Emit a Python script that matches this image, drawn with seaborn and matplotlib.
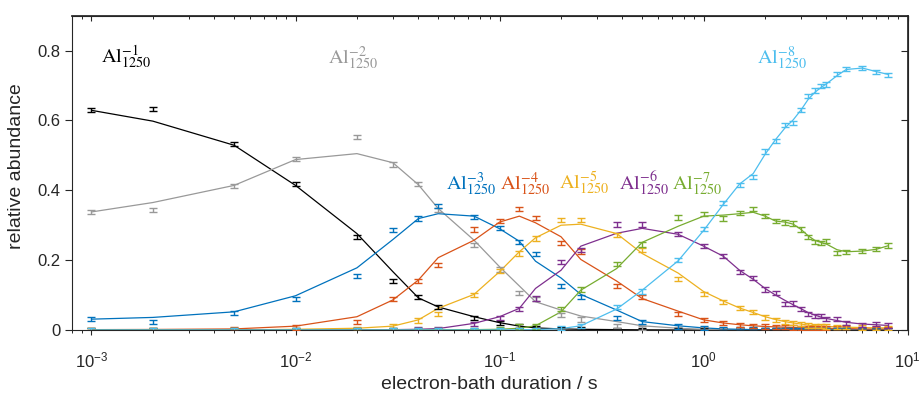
import numpy as np
import pandas as pd
import matplotlib
matplotlib.use("Agg")
import matplotlib.pyplot as plt
import matplotlib.ticker as mticker
import seaborn as sns

# ---------------- data ----------------
t = [0.001, 0.002, 0.005, 0.01, 0.02, 0.03, 0.04, 0.05, 0.075, 0.1, 0.125, 0.15,
     0.2, 0.25, 0.375, 0.5, 0.75, 1.0, 1.25, 1.5, 1.75, 2.0, 2.25, 2.5, 2.75, 3.0,
     3.25, 3.5, 3.75, 4.0, 4.5, 5.0, 6.0, 7.0, 8.0]

ions = ["Al1", "Al2", "Al3", "Al4", "Al5", "Al6", "Al7", "Al8"]
labels = [r"$\mathrm{Al}^{-1}_{1250}$", r"$\mathrm{Al}^{-2}_{1250}$",
          r"$\mathrm{Al}^{-3}_{1250}$", r"$\mathrm{Al}^{-4}_{1250}$",
          r"$\mathrm{Al}^{-5}_{1250}$", r"$\mathrm{Al}^{-6}_{1250}$",
          r"$\mathrm{Al}^{-7}_{1250}$", r"$\mathrm{Al}^{-8}_{1250}$"]
colors = ["#000000", "#999999", "#0072BD", "#D95319", "#EDB120", "#7E2F8E", "#77AC30", "#4DBEEE"]

# measured abundances
al1 = [0.629, 0.633, 0.533, 0.417, 0.267, 0.140, 0.095, 0.066, 0.035, 0.021, 0.011, 0.006,
       0.003, 0.002, 0.001, 0.001, 0.0, 0.0, 0.0, 0.0, 0.0, 0.0, 0.0, 0.0, 0.0, 0.0,
       0.0, 0.0, 0.0, 0.0, 0.0, 0.0, 0.0, 0.0, 0.0]
al2 = [0.338, 0.343, 0.412, 0.490, 0.552, 0.474, 0.417, 0.343, 0.243, 0.173, 0.107, 0.088,
       0.043, 0.030, 0.012, 0.006, 0.003, 0.002, 0.001, 0.001, 0.0, 0.0, 0.0, 0.0, 0.0, 0.0,
       0.0, 0.0, 0.0, 0.0, 0.0, 0.0, 0.0, 0.0, 0.0]
al3 = [0.031, 0.024, 0.049, 0.088, 0.155, 0.287, 0.319, 0.355, 0.324, 0.291, 0.252, 0.217,
       0.126, 0.095, 0.035, 0.022, 0.010, 0.005, 0.003, 0.002, 0.002, 0.001, 0.001, 0.001, 0.0, 0.0,
       0.0, 0.0, 0.0, 0.0, 0.0, 0.0, 0.0, 0.0, 0.0]
al4 = [0.001, 0.001, 0.002, 0.007, 0.022, 0.088, 0.141, 0.186, 0.288, 0.312, 0.347, 0.321,
       0.248, 0.225, 0.127, 0.094, 0.045, 0.029, 0.019, 0.014, 0.012, 0.010, 0.009, 0.008, 0.007, 0.006,
       0.006, 0.005, 0.005, 0.005, 0.004, 0.004, 0.003, 0.003, 0.003]
al5 = [0.0, 0.0, 0.0, 0.001, 0.003, 0.011, 0.027, 0.045, 0.100, 0.169, 0.219, 0.262,
       0.316, 0.316, 0.271, 0.229, 0.146, 0.104, 0.081, 0.062, 0.051, 0.036, 0.029, 0.022, 0.019, 0.016,
       0.013, 0.012, 0.011, 0.010, 0.009, 0.008, 0.007, 0.006, 0.006]
al6 = [0.0, 0.0, 0.0, 0.0, 0.0, 0.001, 0.002, 0.003, 0.016, 0.035, 0.060, 0.090,
       0.195, 0.230, 0.302, 0.302, 0.276, 0.240, 0.211, 0.167, 0.148, 0.116, 0.105, 0.074, 0.076, 0.060,
       0.046, 0.040, 0.040, 0.031, 0.032, 0.021, 0.014, 0.016, 0.013]
al7 = [0.0, 0.0, 0.0, 0.0, 0.0, 0.0, 0.0, 0.0, 0.001, 0.002, 0.010, 0.010,
       0.060, 0.116, 0.190, 0.245, 0.322, 0.331, 0.319, 0.335, 0.346, 0.327, 0.312, 0.308, 0.305, 0.288,
       0.267, 0.252, 0.248, 0.255, 0.221, 0.224, 0.226, 0.232, 0.242]
al8 = [0.0, 0.0, 0.0, 0.0, 0.0, 0.0, 0.0, 0.0, 0.0, 0.0, 0.001, 0.001,
       0.006, 0.011, 0.066, 0.110, 0.200, 0.289, 0.364, 0.416, 0.438, 0.511, 0.542, 0.586, 0.592, 0.629,
       0.669, 0.686, 0.699, 0.703, 0.732, 0.748, 0.750, 0.739, 0.731]

# model (fit) curves
fit1 = [0.629, 0.598, 0.529, 0.414, 0.276, 0.167, 0.092, 0.066, 0.038, 0.021, 0.011, 0.006,
        0.003, 0.002, 0.001, 0.0005, 0.0, 0.0, 0.0, 0.0, 0.0, 0.0, 0.0, 0.0, 0.0, 0.0,
        0.0, 0.0, 0.0, 0.0, 0.0, 0.0, 0.0, 0.0, 0.0]
fit2 = [0.338, 0.365, 0.414, 0.488, 0.505, 0.479, 0.416, 0.348, 0.257, 0.181, 0.126, 0.081,
        0.057, 0.040, 0.024, 0.012, 0.005, 0.002, 0.001, 0.0005, 0.0, 0.0, 0.0, 0.0, 0.0, 0.0,
        0.0, 0.0, 0.0, 0.0, 0.0, 0.0, 0.0, 0.0, 0.0]
fit3 = [0.031, 0.036, 0.052, 0.098, 0.178, 0.259, 0.319, 0.333, 0.326, 0.290, 0.254, 0.197,
        0.149, 0.102, 0.057, 0.024, 0.012, 0.006, 0.003, 0.002, 0.001, 0.001, 0.0, 0.0, 0.0, 0.0,
        0.0, 0.0, 0.0, 0.0, 0.0, 0.0, 0.0, 0.0, 0.0]
fit4 = [0.001, 0.0015, 0.003, 0.011, 0.038, 0.086, 0.143, 0.207, 0.257, 0.309, 0.326, 0.307,
        0.267, 0.202, 0.140, 0.090, 0.054, 0.029, 0.020, 0.015, 0.012, 0.010, 0.009, 0.008, 0.007, 0.006,
        0.006, 0.005, 0.005, 0.005, 0.004, 0.004, 0.003, 0.003, 0.003]
fit5 = [0.0, 0.0, 0.0, 0.002, 0.005, 0.011, 0.029, 0.062, 0.102, 0.167, 0.224, 0.264,
        0.300, 0.303, 0.276, 0.219, 0.163, 0.110, 0.083, 0.063, 0.050, 0.038, 0.030, 0.024, 0.020, 0.017,
        0.014, 0.012, 0.011, 0.010, 0.009, 0.008, 0.007, 0.006, 0.006]
fit6 = [0.0, 0.0, 0.0, 0.0, 0.0005, 0.001, 0.002, 0.004, 0.019, 0.038, 0.062, 0.119,
        0.171, 0.240, 0.277, 0.291, 0.274, 0.240, 0.211, 0.171, 0.145, 0.119, 0.100, 0.085, 0.072, 0.061,
        0.050, 0.043, 0.037, 0.033, 0.027, 0.022, 0.017, 0.015, 0.013]
fit7 = [0.0, 0.0, 0.0, 0.0, 0.0, 0.0, 0.0, 0.0005, 0.001, 0.002, 0.005, 0.012,
        0.052, 0.114, 0.176, 0.251, 0.297, 0.326, 0.329, 0.333, 0.337, 0.326, 0.312, 0.309, 0.303, 0.288,
        0.270, 0.257, 0.251, 0.246, 0.230, 0.224, 0.226, 0.231, 0.241]
fit8 = [0.0, 0.0, 0.0, 0.0, 0.0, 0.0, 0.0, 0.0, 0.0, 0.0, 0.0005, 0.001,
        0.004, 0.012, 0.060, 0.114, 0.198, 0.285, 0.360, 0.418, 0.448, 0.503, 0.545, 0.578, 0.602, 0.630,
        0.660, 0.680, 0.694, 0.705, 0.728, 0.746, 0.750, 0.740, 0.732]

err = 0.006  # error bar half-height

data_series = [al1, al2, al3, al4, al5, al6, al7, al8]
fit_series = [fit1, fit2, fit3, fit4, fit5, fit6, fit7, fit8]

# label anchor positions (data coords)
label_x = [0.00111, 0.01436, 0.0547, 0.1008, 0.196, 0.386, 0.698, 1.82]
label_y = [0.763, 0.763, 0.403, 0.403, 0.403, 0.403, 0.403, 0.762]

xticks = [1e-3, 1e-2, 1e-1, 1e0, 1e1]
yticks = [0, 0.2, 0.4, 0.6, 0.8]
ytick_labels = ["0", "0.2", "0.4", "0.6", "0.8"]

# ---------------- style ----------------
sns.set_theme(style="white")
plt.rcParams["font.family"] = ["Liberation Sans", "DejaVu Sans"]
plt.rcParams["axes.edgecolor"] = "#262626"
plt.rcParams["xtick.color"] = "#262626"
plt.rcParams["ytick.color"] = "#262626"

fig = plt.figure(figsize=(9.19, 3.97), dpi=100)
ax = fig.add_axes([0.0780, 0.1688, 0.9097, 0.7917])

df = pd.DataFrame({
    "t": np.tile(t, len(ions)),
    "fit": np.concatenate(fit_series),
    "ion": np.repeat(ions, len(t)),
})
sns.lineplot(data=df, x="t", y="fit", hue="ion", palette=colors, hue_order=ions,
             legend=False, linewidth=0.9, estimator=None, ax=ax)

for vals, c in zip(data_series, colors):
    ax.errorbar(t, vals, yerr=err, fmt="none", ecolor=c, elinewidth=1.0,
                capsize=2.6, capthick=1.0, zorder=3)

for lab, x, y, c in zip(labels, label_x, label_y, colors):
    ax.text(x, y, lab, color=c, fontsize=14.5, ha="left", va="baseline",
            math_fontfamily="stix")

ax.set_xscale("log")
ax.set_xlim(8e-4, 10)
ax.set_ylim(0, 0.9)
ax.set_xticks(xticks)
ax.set_yticks(yticks)
ax.set_yticklabels(ytick_labels)
ax.xaxis.set_minor_locator(mticker.LogLocator(base=10, subs=np.arange(2, 10), numticks=20))
ax.xaxis.set_minor_formatter(mticker.NullFormatter())

for s in ax.spines.values():
    s.set_linewidth(0.8)
    s.set_color("#262626")

ax.tick_params(axis="x", which="major", direction="out", length=3.5, width=0.8,
               labelsize=12, pad=11, bottom=True, top=False)
ax.tick_params(axis="x", which="minor", direction="out", length=2.2, width=0.7,
               bottom=True, top=False)
ax.tick_params(axis="y", which="major", direction="out", length=5, width=0.8,
               labelsize=12, pad=3, left=True, right=False)

secx = ax.secondary_xaxis("top")
secx.set_xticks(xticks)
secx.xaxis.set_minor_locator(mticker.LogLocator(base=10, subs=np.arange(2, 10), numticks=20))
secx.tick_params(axis="x", which="major", direction="in", length=3.5, width=0.8,
                 labeltop=False, labelbottom=False)
secx.tick_params(axis="x", which="minor", direction="in", length=2.2, width=0.7,
                 labeltop=False, labelbottom=False)
secy = ax.secondary_yaxis("right")
secy.set_yticks(yticks)
secy.tick_params(axis="y", which="major", direction="in", length=5, width=0.8,
                 labelright=False, labelleft=False)

ax.set_xlabel("electron-bath duration / s", fontsize=14)
ax.set_ylabel("relative abundance", fontsize=14)
ax.xaxis.set_label_coords(0.5, -0.175)
ax.xaxis.label.set_va("center")
ax.yaxis.set_label_coords(-0.066, 0.52)
ax.yaxis.label.set_va("center")

fig.savefig("out.png", dpi=100, facecolor="white")
